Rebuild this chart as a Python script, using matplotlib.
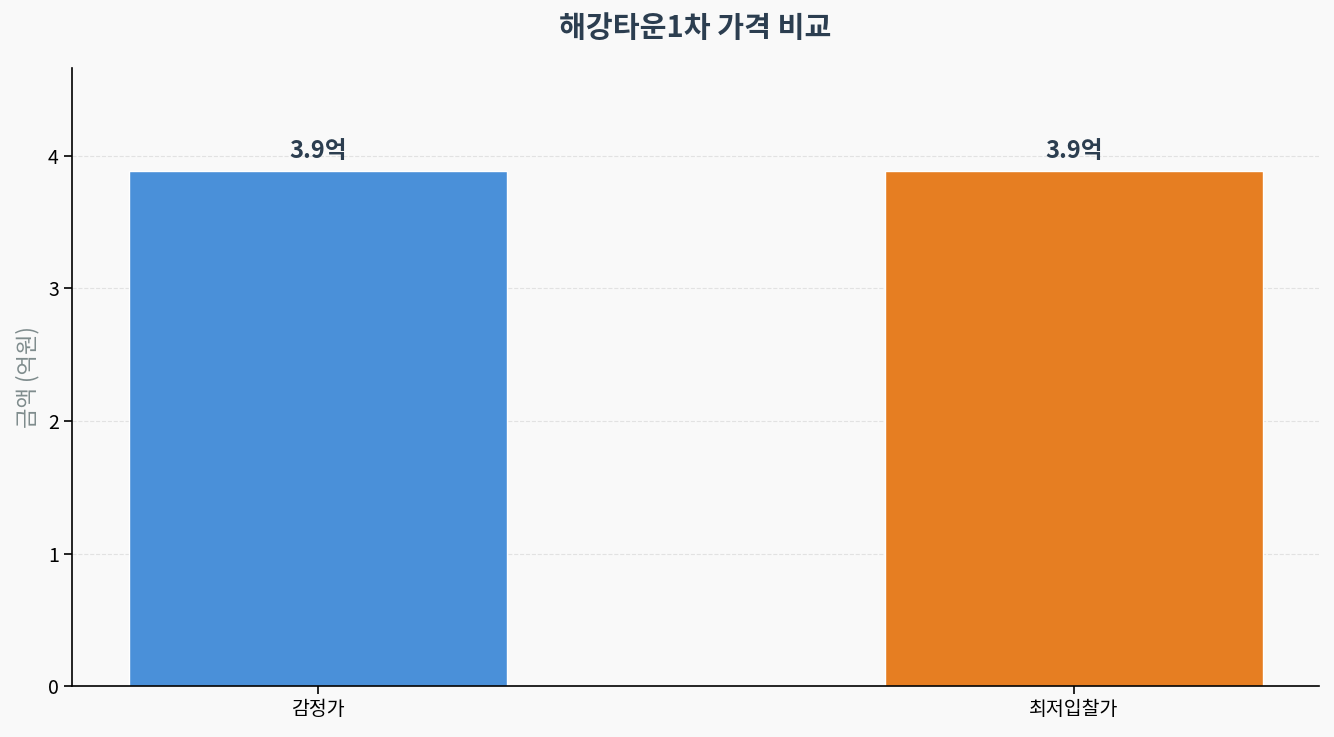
import matplotlib
matplotlib.use('Agg')
import matplotlib.pyplot as plt

plt.rcParams['font.family'] = ['Noto Sans CJK KR', 'DejaVu Sans']

# 데이터
categories = ['감정가', '최저입찰가']
values = [3.886, 3.886]
labels = ['3.9억', '3.9억']
colors = ['#4A90D9', '#E67E22']

fig, ax = plt.subplots(figsize=(13.34, 7.37), dpi=100)
fig.patch.set_facecolor('#F9F9F9')
ax.set_facecolor('#F9F9F9')

bars = ax.bar(categories, values, width=0.5, color=colors, edgecolor='white', linewidth=1)
for bar, txt in zip(bars, labels):
    ax.text(bar.get_x() + bar.get_width() / 2, bar.get_height() + 0.06, txt,
            ha='center', va='bottom', fontsize=17, fontweight='bold', color='#2C3E50')

ax.set_ylim(0, max(values) * 1.2)
ax.set_title('해강타운1차 가격 비교', fontsize=21, fontweight='bold', color='#2C3E50', pad=22)
ax.set_ylabel('금액 (억원)', fontsize=16, color='#7F8C8D', labelpad=6)
ax.tick_params(labelsize=14, width=1.2, length=6)
ax.yaxis.grid(True, linestyle='--', alpha=0.5, color='#CCCCCC')
ax.set_axisbelow(True)
ax.spines['top'].set_visible(False)
ax.spines['right'].set_visible(False)
ax.spines['left'].set_linewidth(1.2)
ax.spines['bottom'].set_linewidth(1.2)

plt.subplots_adjust(left=0.054, right=0.989, top=0.908, bottom=0.069)
plt.savefig('out.png', dpi=100, facecolor=fig.get_facecolor())
